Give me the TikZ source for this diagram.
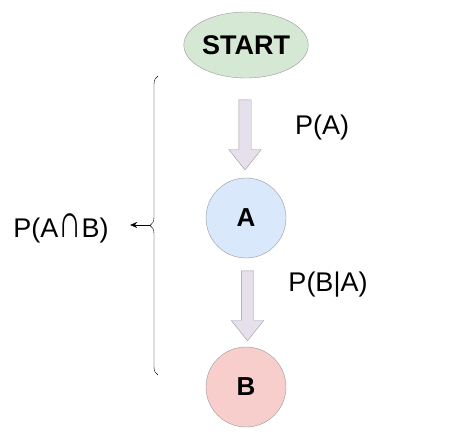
\documentclass[tikz,border=0pt]{standalone}
\usepackage{fontspec}
\usepackage{graphicx}
\setmainfont{Liberation Sans}
\usetikzlibrary{shapes.geometric,shapes.arrows,decorations.pathreplacing,arrows.meta}
\definecolor{startfill}{HTML}{D5E8D4}
\definecolor{afill}{HTML}{DAE8FC}
\definecolor{bfill}{HTML}{F8CECC}
\definecolor{arrowfill}{HTML}{E6E0EC}
\definecolor{edgegray}{HTML}{9A9A9A}
\newcommand{\bigcapsign}{\scalebox{1.2}[1.75]{∩}}

\begin{document}
\begin{tikzpicture}[x=1pt, y=1pt,
	event/.style={circle, draw=edgegray, minimum size=80pt, inner sep=0pt, font=\fontsize{26}{30}\selectfont\bfseries},
	fat/.style={single arrow, shape border rotate=270, draw=edgegray, fill=arrowfill, inner sep=6pt, minimum height=70pt, single arrow head extend=10pt, single arrow tip angle=77},
	prob/.style={font=\fontsize{27}{31}\selectfont}]
\useasboundingbox (0,0) rectangle (465,441);
\node[ellipse, draw=edgegray, fill=startfill, minimum width=119pt, minimum height=66pt, inner sep=0pt, font=\fontsize{27}{31}\selectfont\bfseries] (start) at (246,396) {START};
\node[event, fill=afill] (A) at (246,223) {A};
\node[event, fill=bfill] (B) at (246,54) {B};
\node[fat] (arrA) at (245,310) {};
\node[fat] (arrB) at (247.5,139) {};
\node[prob] (pA) at (322,313) {P(A)};
\node[prob] (pBA) at (328,156) {P(B|A)};
\node[prob] (pAB) at (61,213) {P(A\bigcapsign B)};
\coordinate (btop) at (158,365);
\coordinate (bbot) at (158,66);
\coordinate (btip) at (150,216);
\draw[decorate, decoration={brace, amplitude=8pt}] (bbot) -- (btop);
\draw[-{Stealth[length=7pt, width=6pt]}, shorten >=18pt] (btip) -- (pAB.east |- btip);
\end{tikzpicture}
\end{document}
